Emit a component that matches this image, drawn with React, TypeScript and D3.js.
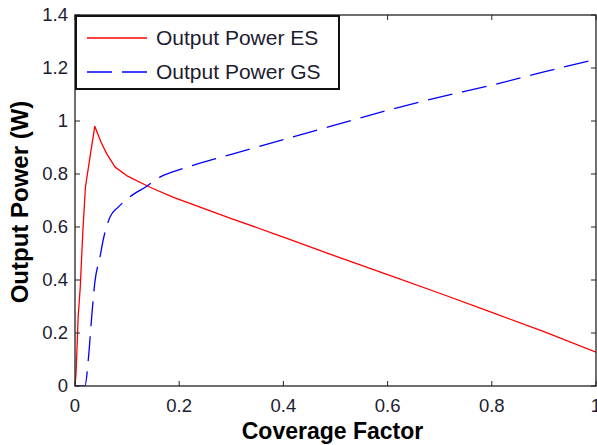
import React from "react";
import * as d3 from "d3";

// Coverage factor samples and output power (W) for each source
const esX = [0, 0.002, 0.004, 0.006, 0.01, 0.015, 0.02, 0.03, 0.038, 0.05, 0.061, 0.077, 0.099, 0.144, 0.189, 0.24, 0.3, 0.4, 0.5, 0.6, 0.7, 0.8, 0.9, 1.0];
const esY = [0, 0.05, 0.15, 0.26, 0.37, 0.58, 0.75, 0.88, 0.98, 0.92, 0.876, 0.826, 0.794, 0.75, 0.712, 0.675, 0.632, 0.562, 0.49, 0.42, 0.35, 0.278, 0.205, 0.128];

const gsX = [0, 0.019, 0.026, 0.032, 0.038, 0.048, 0.054, 0.067, 0.083, 0.105, 0.137, 0.163, 0.195, 0.24, 0.3, 0.4, 0.5, 0.6, 0.7, 0.8, 0.9, 1.0];
const gsY = [0, 0, 0.11, 0.26, 0.39, 0.487, 0.55, 0.637, 0.675, 0.713, 0.753, 0.788, 0.813, 0.841, 0.874, 0.93, 0.985, 1.04, 1.09, 1.135, 1.185, 1.233];

const xTicks = [0, 0.2, 0.4, 0.6, 0.8, 1];
const yTicks = [0, 0.2, 0.4, 0.6, 0.8, 1, 1.2, 1.4];
const seriesNames = ["Output Power ES", "Output Power GS"];

const W = 597;
const H = 445;
const left = 75;
const right = 596;
const top = 15;
const bottom = 386;

export default function App() {
  const x = d3.scaleLinear().domain([0, 1]).range([left, right]);
  const y = d3.scaleLinear().domain([0, 1.4]).range([bottom, top]);
  const line = d3
    .line<[number, number]>()
    .x((d) => x(d[0]))
    .y((d) => y(d[1]));
  const es = esX.map((v, i) => [v, esY[i]] as [number, number]);
  const gs = gsX.map((v, i) => [v, gsY[i]] as [number, number]);
  const tick = 5;
  const fmt = (v: number) => d3.format("~g")(v);
  const font = "'Liberation Sans', Arial, sans-serif";

  return (
    <svg
      width={W}
      height={H}
      style={{ position: "absolute", left: 0, top: 0, background: "#fff" }}
      fontFamily={font}
    >
      <defs>
        <clipPath id="plot">
          <rect x={left} y={top} width={right - left} height={bottom - top} />
        </clipPath>
      </defs>
      <g clipPath="url(#plot)">
        <path d={line(es) || ""} fill="none" stroke="#ff0000" strokeWidth={1.3} strokeLinejoin="round" />
        <path
          d={line.curve(d3.curveMonotoneX)(gs) || ""}
          fill="none"
          stroke="#0000ff"
          strokeWidth={1.3}
          strokeDasharray="25,10"
        />
      </g>
      {/* axes box */}
      <rect
        x={left}
        y={top}
        width={right - left}
        height={bottom - top}
        fill="none"
        stroke="#222"
        strokeWidth={1.3}
      />
      {xTicks.map((t) => (
        <g key={"x" + t}>
          <line x1={x(t)} x2={x(t)} y1={bottom} y2={bottom - tick} stroke="#222" />
          <line x1={x(t)} x2={x(t)} y1={top} y2={top + tick} stroke="#222" />
          <text
            x={x(t)}
            y={412}
            textAnchor="middle"
            fontSize={18.5}
            fill="#1c1c30"
          >
            {fmt(t)}
          </text>
        </g>
      ))}
      {yTicks.map((t) => (
        <g key={"y" + t}>
          <line x1={left} x2={left + tick} y1={y(t)} y2={y(t)} stroke="#222" />
          <line x1={right} x2={right - tick} y1={y(t)} y2={y(t)} stroke="#222" />
          <text
            x={68}
            y={y(t)}
            dy="0.35em"
            textAnchor="end"
            fontSize={18.5}
            fill="#1c1c30"
          >
            {fmt(t)}
          </text>
        </g>
      ))}
      <text
        x={(left + right) / 2 - 3}
        y={439}
        textAnchor="middle"
        fontSize={23}
        fontWeight="bold"
        fill="#000"
      >
        Coverage Factor
      </text>
      <text
        transform={`translate(28, 202) rotate(-90)`}
        textAnchor="middle"
        fontSize={24}
        fontWeight="bold"
        fill="#000"
      >
        Output Power (W)
      </text>
      {/* legend */}
      <rect x={76} y={16} width={263} height={73} fill="#fff" stroke="#111" strokeWidth={2} />
      <line x1={87} x2={147} y1={38} y2={38} stroke="#ff0000" strokeWidth={1.3} />
      <line
        x1={87}
        x2={147}
        y1={72}
        y2={72}
        stroke="#0000ff"
        strokeWidth={1.3}
        strokeDasharray="25,10"
      />
      <text x={156} y={38} dy="0.35em" fontSize={21} fill="#1c1c30">
        {seriesNames[0]}
      </text>
      <text x={156} y={72} dy="0.35em" fontSize={21} fill="#1c1c30">
        {seriesNames[1]}
      </text>
    </svg>
  );
}
